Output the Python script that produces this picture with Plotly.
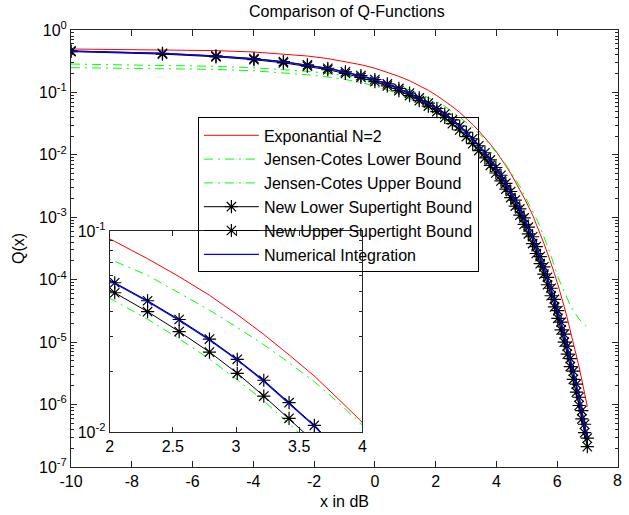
import plotly.graph_objects as go

# x positions (dB) of the sampled points
x_db = [-10.00, -6.99, -5.23, -3.98, -3.01, -2.22, -1.55, -0.97, -0.46, 0.00,
        0.41, 0.79, 1.14, 1.46, 1.76, 2.04, 2.30, 2.55, 2.79, 3.01,
        3.22, 3.42, 3.62, 3.80, 3.98, 4.15, 4.31, 4.47, 4.62, 4.77,
        4.91, 5.05, 5.19, 5.31, 5.44, 5.56, 5.68, 5.80, 5.91, 6.02,
        6.13, 6.23, 6.33, 6.43, 6.53, 6.63, 6.72, 6.81, 6.90, 6.99]

exponential_n2 = [0.496, 0.485, 0.467, 0.444, 0.415, 0.383, 0.349, 0.313, 0.278, 0.244,
                  0.211, 0.181, 0.154, 0.129, 0.108, 0.0888, 0.0728, 0.0593, 0.0479, 0.0384,
                  0.0306, 0.0242, 0.0190, 0.0148, 0.0115, 0.00879, 0.00670, 0.00505, 0.00378, 0.00281,
                  0.00206, 0.00150, 0.00109, 7.75e-4, 5.48e-4, 3.84e-4, 2.66e-4, 1.83e-4, 1.25e-4, 8.39e-5,
                  5.59e-5, 3.70e-5, 2.42e-5, 1.56e-5, 1.00e-5, 6.36e-6, 3.99e-6, 2.49e-6, 1.53e-6, 9.3e-7]

jc_lower = [0.249, 0.243, 0.234, 0.222, 0.207, 0.192, 0.177, 0.161, 0.144, 0.127,
            0.110, 0.0943, 0.0794, 0.0663, 0.0548, 0.0449, 0.0364, 0.0291, 0.0231, 0.0182,
            0.0143, 0.0110, 0.00845, 0.00644, 0.00484, 0.00361, 0.00267, 0.00196, 0.00142, 0.00102,
            7.26e-4, 5.12e-4, 3.58e-4, 2.48e-4, 1.70e-4, 1.16e-4, 7.83e-5, 5.22e-5, 3.46e-5, 2.28e-5,
            1.48e-5, 9.5e-6, 6.07e-6, 3.83e-6, 2.40e-6, 1.48e-6, 9.1e-7, 5.54e-7, 3.34e-7, 2.0e-7]

jc_upper = [0.285, 0.275, 0.262, 0.248, 0.233, 0.218, 0.202, 0.186, 0.168, 0.151,
            0.136, 0.124, 0.110, 0.0953, 0.0822, 0.0707, 0.0602, 0.0492, 0.0404, 0.0331,
            0.0272, 0.0221, 0.0178, 0.0142, 0.0112, 0.00885, 0.00694, 0.00538, 0.00411, 0.00311,
            0.00232, 0.00175, 0.00130, 9.60e-4, 6.99e-4, 4.93e-4, 3.46e-4, 2.39e-4, 1.64e-4, 1.11e-4,
            8.3e-5, 6.3e-5, 4.9e-5, 3.9e-5, 3.2e-5, 2.7e-5, 2.35e-5, 2.1e-5, 1.9e-5, 1.75e-5]

new_lower = [0.451, 0.411, 0.372, 0.334, 0.298, 0.263, 0.231, 0.201, 0.174, 0.149,
             0.127, 0.107, 0.0890, 0.0737, 0.0604, 0.0493, 0.0397, 0.0316, 0.0250, 0.0196,
             0.0151, 0.0117, 0.00894, 0.00680, 0.00512, 0.00382, 0.00283, 0.00207, 0.00151, 0.00108,
             7.70e-4, 5.43e-4, 3.79e-4, 2.63e-4, 1.81e-4, 1.23e-4, 8.30e-5, 5.54e-5, 3.67e-5, 2.41e-5,
             1.57e-5, 1.00e-5, 6.42e-6, 4.06e-6, 2.54e-6, 1.58e-6, 9.67e-7, 5.88e-7, 3.55e-7, 2.12e-7]

new_upper = [0.462, 0.424, 0.385, 0.348, 0.312, 0.277, 0.244, 0.214, 0.186, 0.161,
             0.137, 0.116, 0.0978, 0.0816, 0.0675, 0.0553, 0.0450, 0.0363, 0.0290, 0.0230,
             0.0181, 0.0140, 0.0108, 0.00828, 0.00627, 0.00471, 0.00350, 0.00259, 0.00189, 0.00136,
             9.78e-4, 6.94e-4, 4.88e-4, 3.40e-4, 2.35e-4, 1.61e-4, 1.09e-4, 7.30e-5, 4.86e-5, 3.20e-5,
             2.09e-5, 1.34e-5, 8.63e-6, 5.46e-6, 3.43e-6, 2.13e-6, 1.31e-6, 8.01e-7, 4.84e-7, 2.90e-7]

numerical = [0.460, 0.421, 0.382, 0.345, 0.309, 0.274, 0.242, 0.212, 0.184, 0.159,
             0.136, 0.115, 0.0968, 0.0808, 0.0668, 0.0548, 0.0446, 0.0359, 0.0287, 0.0228,
             0.0179, 0.0139, 0.0107, 0.0082, 0.00621, 0.00466, 0.00347, 0.00256, 0.00187, 0.00135,
             9.68e-4, 6.87e-4, 4.83e-4, 3.37e-4, 2.33e-4, 1.59e-4, 1.08e-4, 7.23e-5, 4.81e-5, 3.17e-5,
             2.07e-5, 1.33e-5, 8.54e-6, 5.41e-6, 3.40e-6, 2.11e-6, 1.30e-6, 7.93e-7, 4.79e-7, 2.87e-7]

series_names = ["Exponantial N=2", "Jensen-Cotes Lower Bound", "Jensen-Cotes Upper Bound",
                "New Lower Supertight Bound", "New Upper Supertight Bound", "Numerical Integration"]
series_vals = [exponential_n2, jc_lower, jc_upper, new_lower, new_upper, numerical]

main_xticks = [-10, -8, -6, -4, -2, 0, 2, 4, 6]
main_xticktext = ["-10", "-8", "-6", "-4", "-2", "0", "2", "4", "6"]
last_xticktext = "8"   # label of the right-hand end of the x axis (x = 8)
main_yticks = [1e-7, 1e-6, 1e-5, 1e-4, 1e-3, 1e-2, 1e-1, 1]
main_yticktext = ["10<sup>-7</sup>", "10<sup>-6</sup>", "10<sup>-5</sup>", "10<sup>-4</sup>",
                  "10<sup>-3</sup>", "10<sup>-2</sup>", "10<sup>-1</sup>", "10<sup>0</sup>"]
inset_xticks = [2, 2.5, 3, 3.5, 4]
inset_xticktext = ["2", "2.5", "3", "3.5", "4"]
inset_yticks = [0.01, 0.1]
inset_yticktext = ["10<sup>-2</sup>", "10<sup>-1</sup>"]

styles = [
    dict(mode="lines", line=dict(color="#ff0000", width=1)),
    dict(mode="lines", line=dict(color="#00ff00", width=1, dash="9px,5px,2px,5px")),
    dict(mode="lines", line=dict(color="#00ff00", width=1, dash="9px,5px,2px,5px")),
    dict(mode="lines+markers", line=dict(color="#000000", width=1),
         marker=dict(symbol="asterisk-open", size=11, color="#000000", line=dict(color="#000000", width=1.2))),
    dict(mode="lines+markers", line=dict(color="#000000", width=1),
         marker=dict(symbol="asterisk-open", size=11, color="#000000", line=dict(color="#000000", width=1.2))),
    dict(mode="lines", line=dict(color="#0000ff", width=1.3)),
]

FONT = "Arial, Liberation Sans, sans-serif"
fig = go.Figure()
for name, vals, st in zip(series_names, series_vals, styles):
    fig.add_trace(go.Scatter(x=x_db, y=vals, name=name, xaxis="x", yaxis="y", **st))
for name, vals, st in zip(series_names, series_vals, styles):
    fig.add_trace(go.Scatter(x=x_db, y=vals, name=name, xaxis="x2", yaxis="y2",
                             showlegend=False, **st))

minor_main = [k * 10.0 ** n for n in range(-7, 0) for k in range(2, 10)]
minor_inset = [k * 0.01 for k in range(2, 10)]

axis_common = dict(showline=True, linecolor="#262626", linewidth=1, mirror="ticks",
                   ticks="inside", tickcolor="#262626", showgrid=False, zeroline=False,
                   ticklabeloverflow="allow",
                   tickfont=dict(family=FONT, size=16, color="#000000"))

fig.update_layout(
    width=629, height=515,
    margin=dict(l=71, r=6, t=30, b=48),
    paper_bgcolor="white", plot_bgcolor="white",
    font=dict(family=FONT, size=16, color="#000000"),
    title=dict(text="Comparison of Q-Functions", x=0.5515, xanchor="center",
               y=0.977, yanchor="middle", font=dict(family=FONT, size=16, color="#000000")),
    xaxis=dict(range=[-10, 8], domain=[0, 1], anchor="y", tickvals=main_xticks,
               ticktext=main_xticktext, ticklen=6,
               title=dict(text="x in dB", standoff=6, font=dict(family=FONT, size=16)),
               **axis_common),
    yaxis=dict(type="log", range=[-7, 0], domain=[0, 1], anchor="x", tickvals=main_yticks,
               ticktext=main_yticktext, ticklen=6,
               minor=dict(tickvals=minor_main, ticks="inside", ticklen=3, tickcolor="#262626"),
               title=dict(text="Q(x)", standoff=10, font=dict(family=FONT, size=16)),
               **axis_common),
    xaxis2=dict(range=[2, 4], domain=[0.0707, 0.5326], anchor="y2", tickvals=inset_xticks,
                ticktext=inset_xticktext, ticklen=5, **axis_common),
    yaxis2=dict(type="log", range=[-2, -1], domain=[0.080, 0.540], anchor="x2",
                tickvals=inset_yticks, ticktext=inset_yticktext, ticklen=5,
                minor=dict(tickvals=minor_inset, ticks="inside", ticklen=3, tickcolor="#262626"),
                **axis_common),
    legend=dict(x=0.232, y=0.80, xanchor="left", yanchor="top",
                bgcolor="rgba(255,255,255,0)", bordercolor="#000000", borderwidth=1,
                font=dict(family=FONT, size=16, color="#000000"), itemwidth=55,
                tracegroupgap=0),
    showlegend=True,
    annotations=[dict(x=0.9995, xref="paper", y=-0.03, yref="paper", text=last_xticktext,
                      showarrow=False, xanchor="center", yanchor="middle",
                      borderpad=0, font=dict(family=FONT, size=16, color="#000000"))],
)

fig.write_html("out.html", config={"displayModeBar": False},
               post_script="document.body.style.margin='0';document.body.style.overflow='hidden';")
